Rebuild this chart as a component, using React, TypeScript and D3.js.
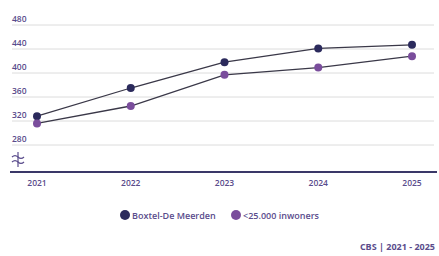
import React from "react";
import * as d3 from "d3";

const years = ["2021", "2022", "2023", "2024", "2025"];
const seriesNames = ["Boxtel-De Meerden", "<25.000 inwoners"];
const seriesA = [328, 375, 418, 441, 447];
const seriesB = [316, 345, 397, 409, 428];
const yTicks = [280, 320, 360, 400, 440, 480];
const source = "CBS | 2021 - 2025";

const W = 439;
const H = 256;
const colors = ["#2b2a5c", "#7a4d9c"];
const textColor = "#5a4c8c";
const font = "'Open Sans', sans-serif";

export default function App() {
  const x = d3.scalePoint<string>().domain(years).range([37, 412]);
  const y = d3.scaleLinear().domain([280, 480]).range([145, 25]);
  const axisY = 172;
  const line = d3
    .line<number>()
    .x((_, i) => x(years[i]) as number)
    .y((d) => y(d));
  const series = [seriesA, seriesB];

  return (
    <svg
      width={W}
      height={H}
      style={{ position: "absolute", left: 0, top: 0, background: "#fff" }}
    >
      {yTicks.map((t) => (
        <g key={t}>
          <line x1={12} x2={434} y1={y(t)} y2={y(t)} stroke="#dcdcdc" strokeWidth={1} />
          <text x={12} y={y(t) - 3} fontSize={8.5} fontWeight={600} fill={textColor} fontFamily={font}>
            {t}
          </text>
        </g>
      ))}
      {/* axis break symbol */}
      <g stroke={textColor} strokeWidth={1.2} fill="none">
        <path d={`M 12 ${axisY - 15} q 3 -3 6 0 t 6 0`} />
        <path d={`M 12 ${axisY - 10} q 3 -3 6 0 t 6 0`} />
        <line x1={18} x2={18} y1={axisY - 20} y2={axisY - 5} />
      </g>
      <line x1={10} x2={437} y1={axisY} y2={axisY} stroke="#3a3868" strokeWidth={1.8} />
      {years.map((yr) => (
        <text
          key={yr}
          x={x(yr) as number}
          y={axisY + 14}
          textAnchor="middle"
          fontSize={8.5}
          fontWeight={600}
          fill={textColor}
          fontFamily={font}
        >
          {yr}
        </text>
      ))}
      {series.map((s, si) => (
        <g key={si}>
          <path d={line(s) || ""} fill="none" stroke="#3a3848" strokeWidth={1.3} />
          {s.map((v, i) => (
            <circle key={i} cx={x(years[i]) as number} cy={y(v)} r={4} fill={colors[si]} />
          ))}
        </g>
      ))}
      {/* legend */}
      <g fontFamily={font} fontSize={9} fontWeight={600} fill={textColor}>
        <circle cx={125} cy={215} r={5} fill={colors[0]} />
        <text x={132} y={218.5}>{seriesNames[0]}</text>
        <circle cx={236} cy={215} r={5} fill={colors[1]} />
        <text x={243} y={218.5}>{seriesNames[1]}</text>
      </g>
      <text x={435} y={250} textAnchor="end" fontSize={9} fontWeight={700} fill={textColor} fontFamily={font}>
        {source}
      </text>
    </svg>
  );
}
